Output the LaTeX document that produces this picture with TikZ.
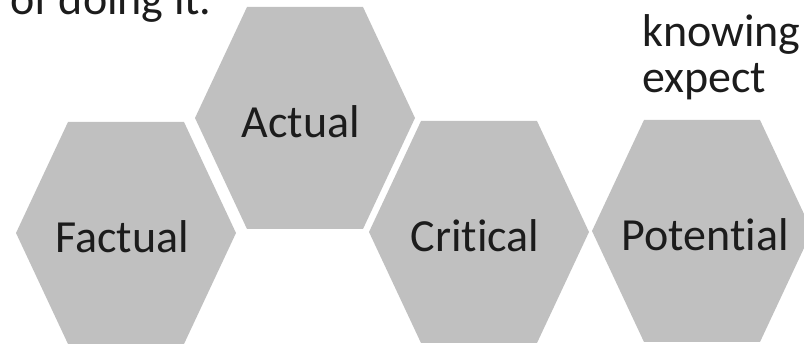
\documentclass[tikz,border=0pt]{standalone}
\usepackage{fontspec}
\setmainfont{Carlito}[Ligatures={NoCommon,NoContextual}]
\usetikzlibrary{positioning}
\definecolor{hexgray}{RGB}{192,192,192}
\definecolor{inkgray}{RGB}{28,28,28}
\tikzset{
hexa/.style={fill=hexgray},
hexlabel/.style={anchor=base,text=inkgray,inner sep=0pt,font=\fontsize{46}{46}\selectfont},
note/.style={anchor=base west,text=inkgray,inner sep=0pt,font=\fontsize{46}{46}\selectfont}
}

\begin{document}
\begin{tikzpicture}[x=1pt,y=-1pt]
\useasboundingbox (0,0) rectangle (804,344);
\clip (0,0) rectangle (804,344);
% hexagons with their labels
\foreach \cx/\cy/\tx/\nm/\txt in {126/233/122/fac/Factual,305/118/301/act/Actual,479/232/475/crit/Critical,702/231/705/pot/Potential}{
  \fill[hexa,shift={(\cx,\cy)}] (-58,-111)--(58,-111)--(110,0)--(58,111)--(-58,111)--(-110,0)--cycle;
  \node[hexlabel] (\nm) at (\tx,\cy+20) {\txt};
}
% text around the picture
\node[note] (doing) at (10,15) {of doing it.};
\node[note] (knowing) at (642,47) {knowing};
\node[note,below=46pt of knowing.base west,anchor=base west] (expect) {expect};
\end{tikzpicture}
\end{document}
